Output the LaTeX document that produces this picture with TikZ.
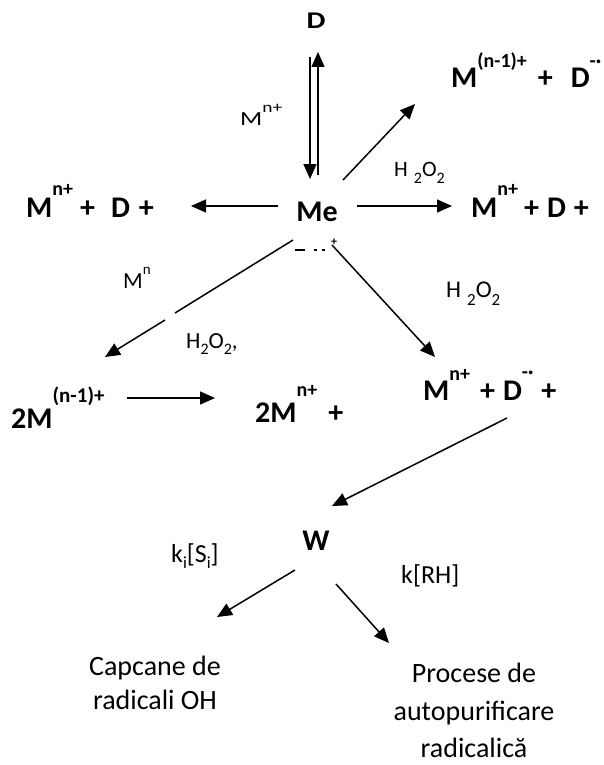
\documentclass[tikz,border=0pt]{standalone}
\usepackage{fontspec}
\setmainfont{Carlito}
\usetikzlibrary{arrows.meta}
\newcommand\supx[3]{\raisebox{#1}{\fontsize{#2}{#2}\selectfont #3}}
\tikzset{
  bftext/.style={font=\fontsize{30}{36}\selectfont\bfseries, inner sep=0pt},
  rgtext/.style={font=\fontsize{#1}{#1}\selectfont, inner sep=0pt},
  arr/.style={line width=1.5pt, -{Triangle[length=15pt,width=13pt]}},
  ln/.style={line width=1.5pt},
  frag/.style={line width=1.2pt},
}
\begin{document}
\begin{tikzpicture}[x=1pt,y=-1pt]
\useasboundingbox (0,0) rectangle (603,765);

% texts
\node[inner sep=0pt, font=\fontsize{24}{28}\selectfont\bfseries, anchor=base] (D) at (316,29) {\scalebox{1.25}[1]{D}};
\node[rgtext=20, anchor=base west] (lm) at (240,125) {\scalebox{1.3}[1]{M\supx{13pt}{15}{n+}}};
\node[bftext, anchor=base west] (TR) at (451,88) {M\supx{20pt}{20}{(n-1)+}\hspace{11pt}+\hspace{18pt}D\supx{20pt}{20}{-·}};
\node[rgtext=22, anchor=base west] (h1) at (394,176) {H\hspace{6pt}\supx{-7pt}{16}{2}O\supx{-7pt}{16}{2}};
\node[bftext, anchor=base] (Me) at (317,221) {Me};
\node[bftext, anchor=base west] (L) at (26,217) {M\supx{22pt}{20}{n+}\hspace{7pt}+\hspace{16pt}D\hspace{9pt}+};
\node[bftext, anchor=base west] (R) at (471,217) {M\supx{22pt}{20}{n+}\hspace{6pt}+\hspace{8pt}D\hspace{8pt}+};
\node[rgtext=23, anchor=base west] (mn) at (123,288) {M\supx{14pt}{15}{n}};
\node[rgtext=23, anchor=base west] (h2) at (186,348) {H\supx{-6pt}{16}{2}O\supx{-6pt}{16}{2},};
\node[rgtext=24, anchor=base west] (h3) at (446,297) {H\hspace{6pt}\supx{-8pt}{17}{2}O\supx{-8pt}{17}{2}};
\node[bftext, anchor=base west] (M2) at (11,428) {2M\supx{26pt}{21}{(n-1)+}};
\node[bftext, anchor=base west] (M3) at (255,422) {2M\supx{26pt}{20}{n+}\hspace{11pt}+};
\node[bftext, anchor=base west] (M4) at (423,400) {M\supx{20pt}{20}{n+}\hspace{10pt}+\hspace{8pt}D\supx{22pt}{20}{-·}\hspace{8pt}+};
\node[bftext, anchor=base] (W) at (316,550) {W};
\node[rgtext=26, anchor=base west] (ks) at (171,562) {k\supx{-6pt}{17}{i}[S\supx{-6pt}{17}{i}]};
\node[rgtext=26, anchor=base west] (kr) at (401,583) {k[RH]};
\node[inner sep=0pt, font=\fontsize{28}{34}\selectfont, align=center, anchor=north] (cap) at (155,656) {Capcane de\\radicali OH};
\node[inner sep=0pt, font=\fontsize{28}{37.5}\selectfont, align=center, anchor=north] (pro) at (474,663) {Procese de\\autopurificare\\radicalică};

% fragments below Me
\draw[frag] (295,250) -- (305,250);
\draw[frag] (314,250) -- (317,250);
\draw[frag] (322,250) -- (325,250);
\node[inner sep=0pt, font=\fontsize{12}{12}\selectfont\bfseries] (plus) at (334,242) {+};

% coordinates
\coordinate (a1s) at (310,57);  \coordinate (a1e) at (310,179);
\coordinate (a2s) at (318,175); \coordinate (a2e) at (318,52);
\coordinate (a3s) at (343,180); \coordinate (a3e) at (415,104);
\coordinate (a4s) at (278,206); \coordinate (a4e) at (191,206);
\coordinate (a5s) at (357,206); \coordinate (a5e) at (452,206);
\coordinate (a6s) at (293,240); \coordinate (a6g1) at (175,313);
\coordinate (a6g2) at (165,320); \coordinate (a6e) at (105,357);
\coordinate (a7s) at (332,245); \coordinate (a7e) at (435,357);
\coordinate (a8s) at (127,398); \coordinate (a8e) at (215,398);
\coordinate (a9s) at (507,418); \coordinate (a9e) at (332,506);
\coordinate (a10s) at (295,570); \coordinate (a10e) at (217,617);
\coordinate (a11s) at (336,584); \coordinate (a11e) at (389,643);

\draw[arr] (a1s) -- (a1e);
\draw[arr] (a2s) -- (a2e);
\draw[arr] (a3s) -- (a3e);
\draw[arr] (a4s) -- (a4e);
\draw[arr] (a5s) -- (a5e);
\draw[ln] (a6s) -- (a6g1);
\draw[arr] (a6g2) -- (a6e);
\draw[arr] (a7s) -- (a7e);
\draw[arr] (a8s) -- (a8e);
\draw[arr] (a9s) -- (a9e);
\draw[arr] (a10s) -- (a10e);
\draw[arr] (a11s) -- (a11e);
\end{tikzpicture}
\end{document}
